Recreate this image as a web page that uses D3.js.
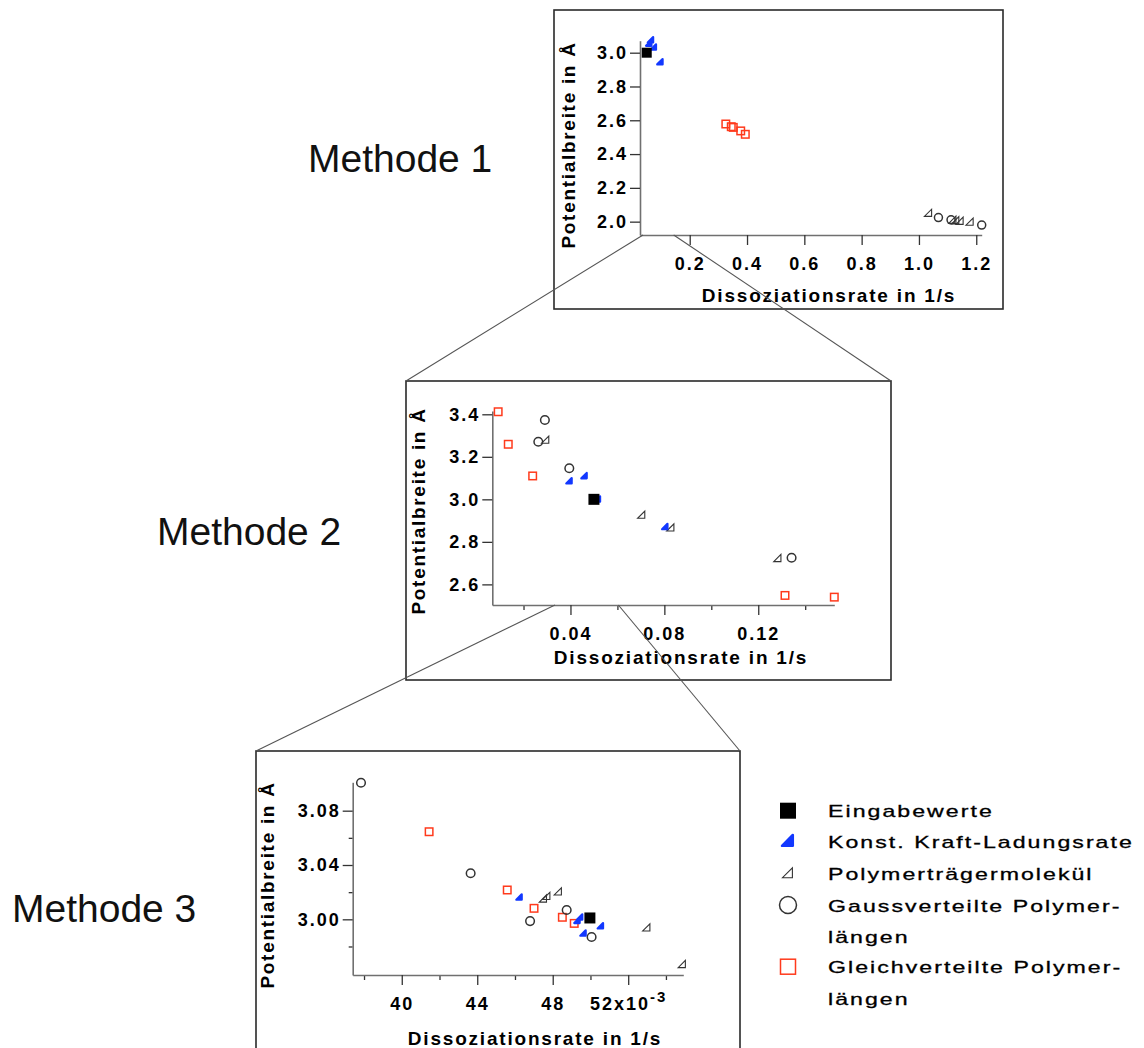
<!DOCTYPE html>
<html><head><meta charset="utf-8">
<script src="https://cdn.jsdelivr.net/npm/d3@7"></script>
<style>body{margin:0;background:#fff} svg{display:block} text{font-family:"Liberation Sans",Arial,sans-serif}</style>
</head><body><svg id="c" width="1144" height="1048"></svg>
<script>
// ---------- DATA ----------
const methodLabels = ["Methode 1", "Methode 2", "Methode 3"];
const legendLabels = [["Eingabewerte"], ["Konst. Kraft-Ladungsrate"], ["Polymerträgermolekül"],
  ["Gaussverteilte Polymer-", "längen"], ["Gleichverteilte Polymer-", "längen"]];
const xTitle = "Dissoziationsrate in 1/s";
const yTitle = "Potentialbreite in Å";

// Methode 1
const m1XDomain = [0.0265, 1.219];
const m1YDomain = [1.921, 3.071];
const m1XTicks = [0.2, 0.4, 0.6, 0.8, 1.0, 1.2];
const m1XTickLabels = ["0.2", "0.4", "0.6", "0.8", "1.0", "1.2"];
const m1XMinor = [];
const m1YTicks = [2.0, 2.2, 2.4, 2.6, 2.8, 3.0];
const m1YTickLabels = ["2.0", "2.2", "2.4", "2.6", "2.8", "3.0"];
const m1YMinor = [];
const m1Input = [[0.05, 3.0]];
const m1Konst = [[0.064, 3.075], [0.058, 3.055], [0.074, 3.032], [0.097, 2.945]];
const m1Polymer = [[1.033, 2.05], [1.118, 2.009], [1.128, 2.006], [1.143, 2.003], [1.178, 1.998]];
const m1Gauss = [[1.068, 2.024], [1.112, 2.011], [1.219, 1.98]];
const m1Gleich = [[0.326, 2.578], [0.345, 2.562], [0.352, 2.558], [0.378, 2.537], [0.394, 2.517]];
const m1Zoom = [0.037, 0.144];

// Methode 2
const m2XDomain = [0.0067, 0.1524];
const m2YDomain = [2.503, 3.4155];
const m2XTicks = [0.04, 0.08, 0.12];
const m2XTickLabels = ["0.04", "0.08", "0.12"];
const m2XMinor = [0.02, 0.06, 0.10, 0.14];
const m2YTicks = [2.6, 2.8, 3.0, 3.2, 3.4];
const m2YTickLabels = ["2.6", "2.8", "3.0", "3.2", "3.4"];
const m2YMinor = [];
const m2Input = [[0.05, 3.0]];
const m2Konst = [[0.0395, 3.086], [0.0459, 3.110], [0.0516, 3.0], [0.0505, 2.998], [0.0803, 2.871]];
const m2Polymer = [[0.0294, 3.279], [0.0703, 2.926], [0.0827, 2.866], [0.1283, 2.722]];
const m2Gauss = [[0.0291, 3.373], [0.0263, 3.271], [0.0395, 3.146], [0.1342, 2.725]];
const m2Gleich = [[0.0092, 3.412], [0.0135, 3.259], [0.0239, 3.110], [0.1314, 2.548], [0.1524, 2.540]];
const m2Zoom = [0.0334, 0.0604];

// Methode 3 (x in 10^-3 1/s)
const m3XDomain = [37.4, 54.92];
const m3YDomain = [2.959, 3.1009];
const m3XTicks = [40, 44, 48, 52];
const m3XTickLabels = ["40", "44", "48", "52x10^-3"];
const m3XMinor = [38, 42, 46, 50, 54];
const m3YTicks = [3.00, 3.04, 3.08];
const m3YTickLabels = ["3.00", "3.04", "3.08"];
const m3YMinor = [2.98, 3.02, 3.06];
const m3Input = [[49.97, 3.001]];
const m3Konst = [[46.23, 3.0162], [49.3, 2.999], [49.44, 3.0015], [50.54, 2.995], [49.62, 2.9897]];
const m3Polymer = [[47.5, 3.015], [47.68, 3.017], [48.29, 3.0203], [52.98, 2.9938], [54.86, 2.9668]];
const m3Gauss = [[37.84, 3.1006], [43.65, 3.0339], [46.80, 2.9987], [48.74, 3.0069], [50.06, 2.987]];
const m3Gleich = [[41.45, 3.0645], [45.59, 3.0216], [47.01, 3.0081], [48.51, 3.0015], [49.14, 2.997]];

// ---------- STYLE ----------
const RED = "#ff3a1c", BLUE = "#1238ff", DARK = "#333";
const svg = d3.select("#c");

const shapes = {
  input: (g, s) => g.append("rect").attr("x", -s.sq / 2).attr("y", -s.sq / 2).attr("width", s.sq).attr("height", s.sq).attr("fill", "#000"),
  konst: (g, s) => g.append("path").attr("d", `M${-s.bl},${s.bl * 0.8}L${s.bl * 0.8},${s.bl * 0.8}L${s.bl * 0.8},${-s.bl}Z`)
    .attr("fill", BLUE).attr("stroke", BLUE).attr("stroke-width", s.bw).attr("stroke-linejoin", "round"),
  polymer: (g, s) => g.append("path").attr("d", `M${-s.tr},${s.tr * 0.8}L${s.tr * 0.8},${s.tr * 0.8}L${s.tr * 0.8},${-s.tr}Z`)
    .attr("fill", "none").attr("stroke", DARK).attr("stroke-width", 1.1),
  gauss: (g, s) => g.append("circle").attr("r", s.r).attr("fill", "none").attr("stroke", DARK).attr("stroke-width", 1.5),
  gleich: (g, s) => g.append("rect").attr("x", -s.rs / 2).attr("y", -s.rs / 2).attr("width", s.rs).attr("height", s.rs)
    .attr("fill", "none").attr("stroke", RED).attr("stroke-width", 1.5)
};

function panel(cfg) {
  const x = d3.scaleLinear().domain(cfg.xDomain).range([cfg.ax, cfg.axEnd]);
  const y = d3.scaleLinear().domain(cfg.yDomain).range([cfg.ay, cfg.ayTop]);
  svg.append("rect").attr("x", cfg.box[0]).attr("y", cfg.box[1]).attr("width", cfg.box[2] - cfg.box[0]).attr("height", cfg.box[3] - cfg.box[1])
    .attr("fill", "#fff").attr("stroke", "#2a2a2a").attr("stroke-width", 1.6);

  const styleAxis = g => {
    g.select(".domain").attr("stroke", "#707070").attr("stroke-width", 1.6);
    g.selectAll(".tick line").attr("stroke", "#333").attr("stroke-width", 1.3);
    g.selectAll("text").attr("font-size", 18).attr("font-weight", "bold").attr("fill", "#000").attr("letter-spacing", 2)
      .attr("font-family", '"Liberation Sans",Arial,sans-serif');
  };
  if (cfg.xMinor.length) svg.append("g").attr("transform", `translate(0,${cfg.ay})`)
    .call(d3.axisBottom(x).tickValues(cfg.xMinor).tickSize(5).tickFormat("").tickSizeOuter(0))
    .call(g => { g.select(".domain").remove(); g.selectAll(".tick line").attr("stroke", "#333").attr("stroke-width", 1.3); });
  if (cfg.yMinor.length) svg.append("g").attr("transform", `translate(${cfg.ax},0)`)
    .call(d3.axisLeft(y).tickValues(cfg.yMinor).tickSize(4).tickFormat("").tickSizeOuter(0))
    .call(g => { g.select(".domain").remove(); g.selectAll(".tick line").attr("stroke", "#333").attr("stroke-width", 1.3); });

  svg.append("g").attr("transform", `translate(0,${cfg.ay})`)
    .call(d3.axisBottom(x).tickValues(cfg.xTicks).tickSize(10).tickPadding(12).tickSizeOuter(0)
      .tickFormat((d, i) => cfg.xLabels[i]))
    .call(styleAxis)
    .call(g => g.selectAll(".tick text").each(function () {
      const t = d3.select(this), s = t.text();
      if (s.includes("^")) {
        const [base, sup] = s.split("^");
        t.text(null);
        t.append("tspan").text(base);
        t.append("tspan").attr("dy", "-0.55em").attr("font-size", 15).text(sup);
      }
    }));
  svg.append("g").attr("transform", `translate(${cfg.ax},0)`)
    .call(d3.axisLeft(y).tickValues(cfg.yTicks).tickSize(10).tickPadding(2).tickSizeOuter(0)
      .tickFormat((d, i) => cfg.yLabels[i]))
    .call(styleAxis);

  svg.append("text").attr("x", cfg.xt[0]).attr("y", cfg.xt[1]).attr("text-anchor", "middle")
    .attr("font-size", 19).attr("font-weight", "bold").attr("letter-spacing", 1.8).text(xTitle);
  svg.append("text").attr("transform", `translate(${cfg.yt[0]},${cfg.yt[1]}) rotate(-90)`).attr("dy", "0.35em")
    .attr("text-anchor", "middle").attr("font-size", 19).attr("font-weight", "bold").attr("letter-spacing", 1.7).text(yTitle);
  svg.append("text").attr("x", cfg.ml[0]).attr("y", cfg.ml[1]).attr("font-size", 39).attr("fill", "#111").text(cfg.label);

  const order = ["gleich", "gauss", "polymer", "konst", "input"];
  order.forEach(k => {
    svg.append("g").selectAll("g").data(cfg.series[k]).join("g")
      .attr("transform", d => `translate(${x(d[0])},${y(d[1])})`)
      .each(function () { shapes[k](d3.select(this), cfg.sz); });
  });
  return { x, y };
}

const p1 = panel({
  box: [554, 10, 1003, 309], ax: 640, axEnd: 981.7, ay: 235, ayTop: 40.7,
  xDomain: m1XDomain, yDomain: m1YDomain, xTicks: m1XTicks, xLabels: m1XTickLabels, xMinor: m1XMinor,
  yTicks: m1YTicks, yLabels: m1YTickLabels, yMinor: m1YMinor,
  xt: [829, 302], yt: [568, 145], ml: [308, 172], label: methodLabels[0],
  series: { input: m1Input, konst: m1Konst, polymer: m1Polymer, gauss: m1Gauss, gleich: m1Gleich },
  sz: { sq: 10, bl: 3, bw: 2.2, tr: 4, r: 4, rs: 7.5 }
});
const p2 = panel({
  box: [406, 381, 891, 680], ax: 492.3, axEnd: 834.3, ay: 605, ayTop: 411,
  xDomain: m2XDomain, yDomain: m2YDomain, xTicks: m2XTicks, xLabels: m2XTickLabels, xMinor: m2XMinor,
  yTicks: m2YTicks, yLabels: m2YTickLabels, yMinor: m2YMinor,
  xt: [681, 664], yt: [418, 511], ml: [157, 545], label: methodLabels[1],
  series: { input: m2Input, konst: m2Konst, polymer: m2Polymer, gauss: m2Gauss, gleich: m2Gleich },
  sz: { sq: 11, bl: 3, bw: 2.2, tr: 4, r: 4.3, rs: 7.5 }
});
const p3 = panel({
  box: [256, 751, 740, 1060], ax: 352.7, axEnd: 683.3, ay: 975, ayTop: 782.3,
  xDomain: m3XDomain, yDomain: m3YDomain, xTicks: m3XTicks, xLabels: m3XTickLabels, xMinor: m3XMinor,
  yTicks: m3YTicks, yLabels: m3YTickLabels, yMinor: m3YMinor,
  xt: [535, 1045], yt: [267, 885], ml: [12, 922], label: methodLabels[2],
  series: { input: m3Input, konst: m3Konst, polymer: m3Polymer, gauss: m3Gauss, gleich: m3Gleich },
  sz: { sq: 11, bl: 3, bw: 2.2, tr: 4, r: 4.3, rs: 7.5 }
});

// zoom connectors
const conn = svg.append("g").attr("stroke", "#555").attr("stroke-width", 1.1);
conn.append("line").attr("x1", p1.x(m1Zoom[0])).attr("y1", 235).attr("x2", 406).attr("y2", 381);
conn.append("line").attr("x1", p1.x(m1Zoom[1])).attr("y1", 235).attr("x2", 891).attr("y2", 381);
conn.append("line").attr("x1", p2.x(m2Zoom[0])).attr("y1", 605).attr("x2", 256).attr("y2", 751);
conn.append("line").attr("x1", p2.x(m2Zoom[1])).attr("y1", 605).attr("x2", 740).attr("y2", 751);

// legend
const legKeys = ["input", "konst", "polymer", "gauss", "gleich"];
const legY = [810.7, 841, 873.3, 905, 966.7];
const legSz = { sq: 16, bl: 6, bw: 2.5, tr: 5.5, r: 8.5, rs: 15 };
const leg = svg.append("g");
legKeys.forEach((k, i) => {
  const g = leg.append("g").attr("transform", `translate(788,${legY[i]})`);
  shapes[k](g, legSz);
  legendLabels[i].forEach((t, j) => {
    leg.append("text").attr("transform", `translate(828,${legY[i] + 6.5 + j * 31.5}) scale(1.36,1)`)
      .attr("font-size", 17).attr("letter-spacing", 1.5).attr("fill", "#000")
      .attr("stroke", "#000").attr("stroke-width", 0.3).text(t);
  });
});
</script></body></html>
